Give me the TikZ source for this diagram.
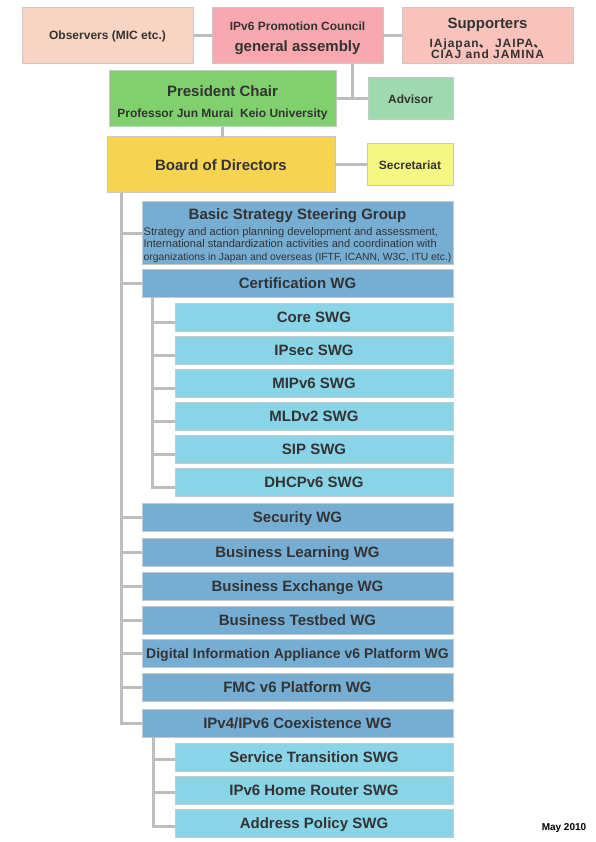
\documentclass[tikz,border=0pt]{standalone}
\usepackage{fontspec}
\setmainfont{Liberation Sans}
\newfontfamily\cjk{Noto Sans CJK JP}
\newfontfamily\widefont[LetterSpace=8]{Liberation Sans}
\usepackage{xcolor}
\usepackage{tikz}
\definecolor{txt}{HTML}{333333}
\definecolor{frame}{HTML}{C8C8C8}
\definecolor{linkgray}{HTML}{BDBDBD}
\definecolor{obsfill}{HTML}{F8D5C3}
\definecolor{genfill}{HTML}{F8A8AE}
\definecolor{supfill}{HTML}{F9C2BA}
\definecolor{presfill}{HTML}{80D06E}
\definecolor{advfill}{HTML}{9FDAAE}
\definecolor{boardfill}{HTML}{F7D44F}
\definecolor{secfill}{HTML}{F5F880}
\definecolor{wgblue}{HTML}{76ADD3}
\definecolor{swgblue}{HTML}{8AD4E8}

\begin{document}
\begin{tikzpicture}[x=1pt, y=-1pt,
  box/.style={draw=frame, line width=1pt, inner sep=0, outer sep=0, align=center, text=txt, font=\bfseries\fontsize{15}{17}\selectfont},
  smallbox/.style={box, font=\bfseries\fontsize{12}{14}\selectfont},
  wg/.style={box, fill=wgblue, minimum width=311, minimum height=28, text height=10.8pt, text depth=0pt},
  swg/.style={wg, fill=swgblue, minimum width=278},
  link/.style={draw=linkgray, line width=3pt}]
\path[use as bounding box, fill=white] (0,0) rectangle (595,842);
%top
\node[smallbox, fill=obsfill, minimum width=171, minimum height=56] (obs) at (107.5,36) {Observers (MIC etc.)};
\node[box, fill=genfill, minimum width=171, minimum height=56] (gen) at (297.5,36) {{\fontsize{12}{14}\selectfont\rule{0pt}{13pt}IPv6 Promotion Council}\\[3.5pt] general assembly};
\node[box, fill=supfill, minimum width=171, minimum height=56] (sup) at (487.5,36) {\rule{0pt}{15pt}Supporters\\[2pt] {\widefont\fontsize{12}{11}\selectfont IAjapan{\cjk 、} JAIPA{\cjk 、}}\\[-6pt] {\widefont\fontsize{12}{11}\selectfont CIAJ and JAMINA}};
\node[box, fill=presfill, minimum width=227, minimum height=56] (pres) at (222.5,99) {\rule{0pt}{18pt}President Chair\\[3.5pt] {\fontsize{12}{14}\selectfont Professor Jun Murai\ \ Keio University}};
\node[smallbox, fill=advfill, minimum width=85, minimum height=42] (adv) at (410.5,99) {Advisor};
\node[box, fill=boardfill, minimum width=228, minimum height=56] (board) at (221,165) {Board of Directors};
\node[smallbox, fill=secfill, minimum width=86, minimum height=42] (sec) at (410,165) {Secretariat};
%groups
\node[wg, minimum height=62, text height=, text depth=] (w1) at (297.5,233) {\rule{0pt}{17pt}Basic Strategy Steering Group\\[-1pt]
  {\mdseries\fontsize{11.1}{12.5}\selectfont\begin{tabular}[t]{@{}l@{}}
  Strategy and action planning development and assessment,\\
  International standardization activities and coordination with\\
  {\fontsize{10.35}{12.5}\selectfont organizations in Japan and overseas (IFTF, ICANN, W3C, ITU etc.)}
  \end{tabular}}};
\node[wg] (w2) at (297.5,283) {Certification WG};
\node[swg] (s1) at (314,317.5) {Core SWG};
\node[swg] (s2) at (314,350.5) {IPsec SWG};
\node[swg] (s3) at (314,383.5) {MIPv6 SWG};
\node[swg] (s4) at (314,416.5) {MLDv2 SWG};
\node[swg] (s5) at (314,449.5) {SIP SWG};
\node[swg] (s6) at (314,482.5) {DHCPv6 SWG};
\node[wg] (w3) at (297.5,517.5) {Security WG};
\node[wg] (w4) at (297.5,552) {Business Learning WG};
\node[wg] (w5) at (297.5,586) {Business Exchange WG};
\node[wg] (w6) at (297.5,620) {Business Testbed WG};
\node[wg, font=\bfseries\fontsize{14}{16}\selectfont, text height=10pt] (w7) at (297.5,653.5) {Digital Information Appliance v6 Platform WG};
\node[wg] (w8) at (297.5,687.5) {FMC v6 Platform WG};
\node[wg] (w9) at (297.5,723) {IPv4/IPv6 Coexistence WG};
\node[swg] (s7) at (314,757) {Service Transition SWG};
\node[swg] (s8) at (314,790.5) {IPv6 Home Router SWG};
\node[swg] (s9) at (314,823.5) {Address Policy SWG};
\node[font=\bfseries\fontsize{10}{12}\selectfont] (date) at (564,828) {May 2010};
%links
\coordinate (j1) at (352,99);
\coordinate (t1) at (121,193);
\coordinate (t2) at (152,297);
\coordinate (t3) at (153,737);
\draw[link] (obs) -- (gen);
\draw[link] (gen) -- (sup);
\draw[link] (gen.south -| j1) -- (j1);
\draw[link] (pres) -- (adv);
\draw[link] (pres.south) -- (pres.south |- board.north);
\draw[link] (board) -- (sec);
\draw[link] (t1) |- (w1);
\draw[link] (t1) |- (w2);
\draw[link] (t1) |- (w3);
\draw[link] (t1) |- (w4);
\draw[link] (t1) |- (w5);
\draw[link] (t1) |- (w6);
\draw[link] (t1) |- (w7);
\draw[link] (t1) |- (w8);
\draw[link] (t1) |- (w9);
\draw[link] (t2) |- ([yshift=-5pt]s1.west);
\draw[link] (t2) |- ([yshift=-5pt]s2.west);
\draw[link] (t2) |- ([yshift=-5pt]s3.west);
\draw[link] (t2) |- ([yshift=-5pt]s4.west);
\draw[link] (t2) |- ([yshift=-5pt]s5.west);
\draw[link] (t2) |- ([yshift=-5pt]s6.west);
\draw[link] (t3) |- ([yshift=-2pt]s7.west);
\draw[link] (t3) |- ([yshift=-2pt]s8.west);
\draw[link] (t3) |- ([yshift=-3pt]s9.west);
\end{tikzpicture}
\end{document}
